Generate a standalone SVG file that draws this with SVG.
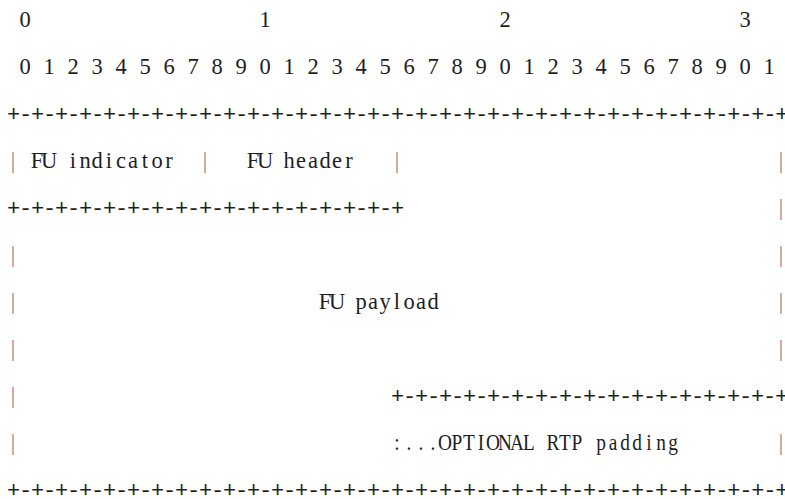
<svg xmlns="http://www.w3.org/2000/svg" width="785" height="499" viewBox="0 0 785 499">
<style>
text{font-family:"Liberation Serif","Times New Roman",serif;font-size:22.5px;fill:#1e1e1e;text-anchor:middle}
.rule{font-family:"Liberation Mono","DejaVu Sans Mono",monospace;font-size:22px;letter-spacing:-1.2px;text-anchor:start}
.bar{fill:#8c8c8c;font-size:24px}
</style>
<rect width="785" height="499" fill="#fff"/>
<g id="bit-ruler">
<text x="25" y="27">0</text>
<text x="265" y="27">1</text>
<text x="505" y="27">2</text>
<text x="745" y="27">3</text>
<text x="25 49 73 97 121 145 169 193 217 241 265 289 313 337 361 385 409 433 457 481 505 529 553 577 601 625 649 673 697 721 745 769" y="74">01234567890123456789012345678901</text>
</g>
<g id="fu-header-row">
<text class="rule" x="7" y="121">+-+-+-+-+-+-+-+-+-+-+-+-+-+-+-+-+-+-+-+-+-+-+-+-+-+-+-+-+-+-+-+-+</text>
<text class="bar" x="13" y="168">|</text>
<text x="37 49 61 73 85 97 109 121 133 145 157 169" y="168">FU indicator</text>
<text class="bar" x="205" y="168">|</text>
<text x="253 265 277 289 301 313 325 337 349" y="168">FU header</text>
<text class="bar" x="397" y="168">|</text>
<text class="bar" x="781" y="168">|</text>
<text class="rule" x="7" y="215">+-+-+-+-+-+-+-+-+-+-+-+-+-+-+-+-+</text>
<text class="bar" x="781" y="215">|</text>
</g>
<g id="fu-payload">
<text class="bar" x="13" y="262">|</text>
<text class="bar" x="781" y="262">|</text>
<text class="bar" x="13" y="309">|</text>
<text x="325 337 349 361 373 385 397 409 421 433" y="309">FU payload</text>
<text class="bar" x="781" y="309">|</text>
<text class="bar" x="13" y="356">|</text>
<text class="bar" x="781" y="356">|</text>
<text class="bar" x="13" y="403">|</text>
<text class="rule" x="391" y="403">+-+-+-+-+-+-+-+-+-+-+-+-+-+-+-+-+</text>
</g>
<g id="rtp-padding">
<text class="bar" x="13" y="450">|</text>
<text transform="scale(0.86,1)" x="461.63 475.58 489.53 503.49 517.44 531.4 545.35 559.3 573.26 587.21 601.16 615.12 629.07 643.02 656.98 670.93 684.88 698.84 712.79 726.74 740.7 754.65 768.6 782.56" y="450">:...OPTIONAL RTP padding</text>
<text class="bar" x="781" y="450">|</text>
<text class="rule" x="7" y="497">+-+-+-+-+-+-+-+-+-+-+-+-+-+-+-+-+-+-+-+-+-+-+-+-+-+-+-+-+-+-+-+-+</text>
</g>
</svg>
